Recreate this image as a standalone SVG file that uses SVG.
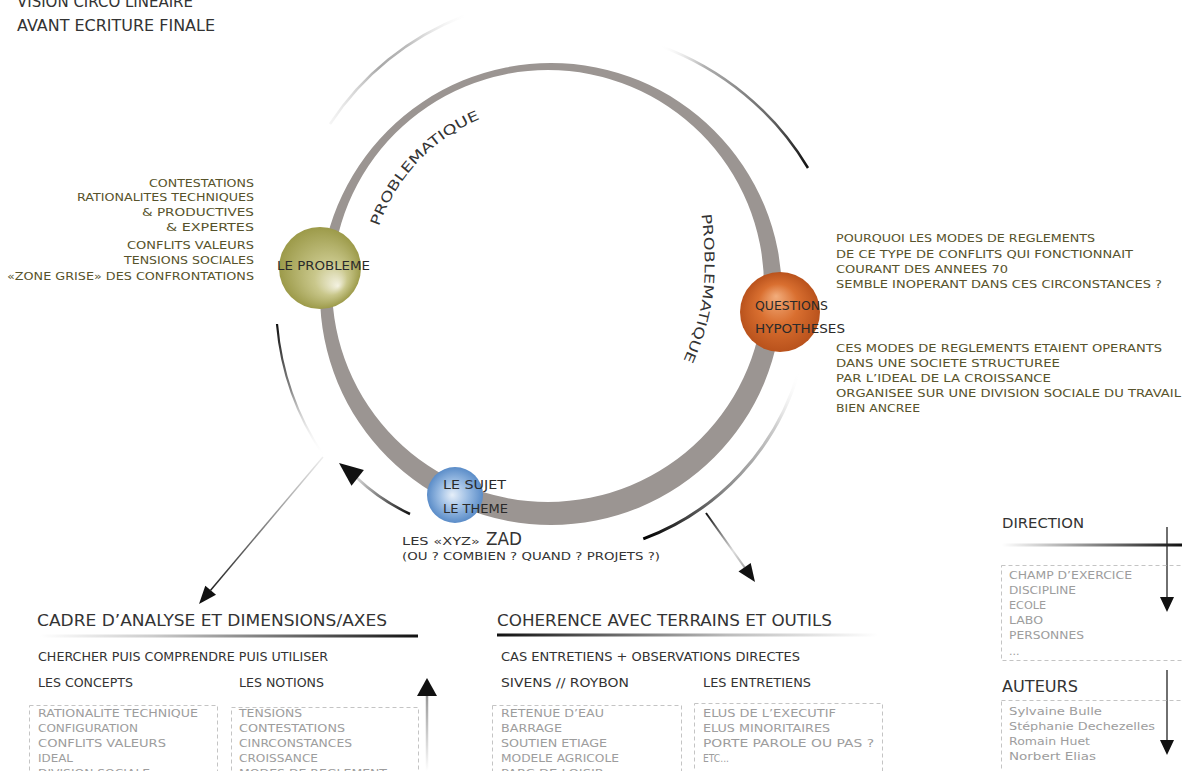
<svg xmlns="http://www.w3.org/2000/svg" width="1182" height="771" viewBox="0 0 1182 771">
<style>
text{font-family:"DejaVu Sans","Liberation Sans",sans-serif;fill:#333}
.o{fill:#57532b;font-size:10.5px}
.r{fill:#57532b;font-size:11px}
.g{fill:#9d9d9d;font-size:11px}
.h{font-size:16px}
.s{font-size:11.5px}
.n{font-size:12.5px;fill:#2a2a2a}
.box{fill:none;stroke:#c4c4c4;stroke-width:1;stroke-dasharray:4 3}
.ah{fill:#111}
</style>
<defs>
<radialGradient id="gOl" cx="0.5" cy="0.5" r="0.5" fx="0.72" fy="0.72">
<stop offset="0" stop-color="#f4f2e2"/><stop offset="0.4" stop-color="#c9c78b"/><stop offset="1" stop-color="#9c9a49"/>
</radialGradient>
<radialGradient id="gOr" cx="0.5" cy="0.5" r="0.5" fx="0.45" fy="0.3">
<stop offset="0" stop-color="#f2ad7c"/><stop offset="0.5" stop-color="#d96f30"/><stop offset="1" stop-color="#b9521c"/>
</radialGradient>
<radialGradient id="gBl" cx="0.5" cy="0.5" r="0.5" fx="0.45" fy="0.5">
<stop offset="0" stop-color="#e6eff9"/><stop offset="0.5" stop-color="#9dbee4"/><stop offset="1" stop-color="#5a8cc8"/>
</radialGradient>
<linearGradient id="gTopL" gradientUnits="userSpaceOnUse" x1="330" y1="0" x2="470" y2="0">
<stop offset="0" stop-color="#ddd" stop-opacity="0.3"/><stop offset="0.35" stop-color="#a8a8a8"/><stop offset="0.55" stop-color="#bbb"/><stop offset="1" stop-color="#fff" stop-opacity="0"/>
</linearGradient>
<linearGradient id="gTopR" gradientUnits="userSpaceOnUse" x1="660" y1="0" x2="808" y2="0">
<stop offset="0" stop-color="#fff" stop-opacity="0"/><stop offset="0.3" stop-color="#b0b0b0"/><stop offset="0.75" stop-color="#666"/><stop offset="1" stop-color="#111"/>
</linearGradient>
<linearGradient id="gLR" gradientUnits="userSpaceOnUse" x1="800" y1="373" x2="643" y2="538">
<stop offset="0" stop-color="#fff" stop-opacity="0"/><stop offset="0.25" stop-color="#ccc"/><stop offset="0.6" stop-color="#888"/><stop offset="0.85" stop-color="#333"/><stop offset="1" stop-color="#000"/>
</linearGradient>
<linearGradient id="gL" gradientUnits="userSpaceOnUse" x1="0" y1="324" x2="0" y2="456">
<stop offset="0" stop-color="#111"/><stop offset="0.5" stop-color="#888"/><stop offset="1" stop-color="#fff" stop-opacity="0"/>
</linearGradient>
<linearGradient id="gA1" gradientUnits="userSpaceOnUse" x1="323" y1="457" x2="210" y2="590">
<stop offset="0" stop-color="#eee"/><stop offset="1" stop-color="#222"/>
</linearGradient>
<linearGradient id="gA2" gradientUnits="userSpaceOnUse" x1="410" y1="514" x2="357" y2="478">
<stop offset="0" stop-color="#111"/><stop offset="1" stop-color="#d5d5d5"/>
</linearGradient>
<linearGradient id="gA3" gradientUnits="userSpaceOnUse" x1="706" y1="513" x2="745" y2="567">
<stop offset="0" stop-color="#111"/><stop offset="0.7" stop-color="#ddd"/><stop offset="1" stop-color="#aaa"/>
</linearGradient>
<linearGradient id="gUp" gradientUnits="userSpaceOnUse" x1="0" y1="696" x2="0" y2="771">
<stop offset="0" stop-color="#999"/><stop offset="1" stop-color="#fff"/>
</linearGradient>
<linearGradient id="gU1" gradientUnits="userSpaceOnUse" x1="40" y1="0" x2="418" y2="0">
<stop offset="0" stop-color="#fff"/><stop offset="0.3" stop-color="#ccc"/><stop offset="1" stop-color="#111"/>
</linearGradient>
<linearGradient id="gU2" gradientUnits="userSpaceOnUse" x1="497" y1="0" x2="878" y2="0">
<stop offset="0" stop-color="#111"/><stop offset="0.6" stop-color="#bbb"/><stop offset="1" stop-color="#fff"/>
</linearGradient>
<linearGradient id="gU3" gradientUnits="userSpaceOnUse" x1="1002" y1="0" x2="1182" y2="0">
<stop offset="0" stop-color="#fff"/><stop offset="0.3" stop-color="#bbb"/><stop offset="1" stop-color="#111"/>
</linearGradient>
<path id="pTop" d="M 378.5 227.5 A 181 181 0 0 1 487.5 116"/>
<path id="pRight" d="M 701 210 C 708 270, 708 310, 678 372"/>
</defs>
<rect width="1182" height="771" fill="#fff"/>

<g id="title">
<text x="17" y="7" font-size="15" fill="#4a403c" textLength="176" lengthAdjust="spacingAndGlyphs">VISION CIRCO LINEAIRE</text>
<text x="17" y="31" font-size="15" fill="#4a403c" textLength="198" lengthAdjust="spacingAndGlyphs">AVANT ECRITURE FINALE</text>
</g>

<g id="ring">
<path fill="#9b9592" fill-rule="evenodd" d="M 320 294 A 231 231 0 1 0 782 294 A 231 231 0 1 0 320 294 Z M 332 286 A 216 216 0 1 0 764 286 A 216 216 0 1 0 332 286 Z"/>
<text font-size="13.5" fill="#333"><textPath href="#pTop" startOffset="1" textLength="152" lengthAdjust="spacingAndGlyphs">PROBLEMATIQUE</textPath></text>
<text font-size="13.5" fill="#333"><textPath href="#pRight" startOffset="4" textLength="150" lengthAdjust="spacingAndGlyphs">PROBLEMATIQUE</textPath></text>
</g>

<g id="connectors" fill="none">
<path d="M 330 124 A 281 281 0 0 1 463.9 16" stroke="url(#gTopL)" stroke-width="2.5"/>
<path d="M 660 46 A 286 286 0 0 1 808 168" stroke="url(#gTopR)" stroke-width="2.5"/>
<path d="M 798.5 372.4 A 255 255 0 0 1 643.3 538.9" stroke="url(#gLR)" stroke-width="3"/>
<path d="M 277 324 A 278 278 0 0 0 323.5 455.5" stroke="url(#gL)" stroke-width="2.2"/>
<line x1="323" y1="457" x2="210.6" y2="590.2" stroke="url(#gA1)" stroke-width="1.5"/>
<polygon class="ah" points="199,604 216,594.7 205.3,585.7"/>
<path d="M 410 514 Q 380 500 357 478" stroke="url(#gA2)" stroke-width="2.5"/>
<polygon class="ah" points="339,463 363.9,470.1 351.5,485.7"/>
<line x1="706" y1="513" x2="744.6" y2="567.3" stroke="url(#gA3)" stroke-width="2"/>
<polygon class="ah" points="755,582 750.7,563 738.5,571.6"/>
<line x1="427" y1="695" x2="427" y2="771" stroke="url(#gUp)" stroke-width="2.5"/>
<polygon class="ah" points="427,678 417,696 437,696"/>
<line x1="1167" y1="527" x2="1167" y2="598" stroke="#222" stroke-width="1.3"/>
<polygon class="ah" points="1160,597 1174,597 1167,612"/>
<line x1="1167" y1="670" x2="1167" y2="741" stroke="#222" stroke-width="1.3"/>
<polygon class="ah" points="1160,740 1174,740 1167,755"/>
</g>

<g id="node-probleme">
<circle cx="320" cy="268" r="41" fill="url(#gOl)"/>
<text class="n" x="277" y="270" textLength="93" lengthAdjust="spacingAndGlyphs">LE PROBLEME</text>
</g>
<g id="probleme-notes">
<text class="o" x="254" y="187" text-anchor="end" textLength="105" lengthAdjust="spacingAndGlyphs">CONTESTATIONS</text>
<text class="o" x="254" y="201" text-anchor="end" textLength="177" lengthAdjust="spacingAndGlyphs">RATIONALITES TECHNIQUES</text>
<text class="o" x="254" y="216" text-anchor="end" textLength="112" lengthAdjust="spacingAndGlyphs">&amp; PRODUCTIVES</text>
<text class="o" x="254" y="231" text-anchor="end" textLength="88" lengthAdjust="spacingAndGlyphs">&amp; EXPERTES</text>
<text class="o" x="254" y="249" text-anchor="end" textLength="127" lengthAdjust="spacingAndGlyphs">CONFLITS VALEURS</text>
<text class="o" x="254" y="264" text-anchor="end" textLength="130" lengthAdjust="spacingAndGlyphs">TENSIONS SOCIALES</text>
<text class="o" x="254" y="280" text-anchor="end" textLength="247" lengthAdjust="spacingAndGlyphs">«ZONE GRISE» DES CONFRONTATIONS</text>
</g>

<g id="node-questions">
<circle cx="780" cy="312" r="40" fill="url(#gOr)"/>
<text class="n" x="755" y="310" textLength="73" lengthAdjust="spacingAndGlyphs">QUESTIONS</text>
<text class="n" x="755" y="333" textLength="90" lengthAdjust="spacingAndGlyphs">HYPOTHESES</text>
</g>
<g id="questions-notes">
<text class="r" x="836" y="242" textLength="259" lengthAdjust="spacingAndGlyphs">POURQUOI LES MODES DE REGLEMENTS</text>
<text class="r" x="836" y="258" textLength="297" lengthAdjust="spacingAndGlyphs">DE CE TYPE DE CONFLITS QUI FONCTIONNAIT</text>
<text class="r" x="836" y="273" textLength="172" lengthAdjust="spacingAndGlyphs">COURANT DES ANNEES 70</text>
<text class="r" x="836" y="288" textLength="326" lengthAdjust="spacingAndGlyphs">SEMBLE INOPERANT DANS CES CIRCONSTANCES ?</text>
<text class="r" x="836" y="352" textLength="326" lengthAdjust="spacingAndGlyphs">CES MODES DE REGLEMENTS ETAIENT OPERANTS</text>
<text class="r" x="836" y="367" textLength="224" lengthAdjust="spacingAndGlyphs">DANS UNE SOCIETE STRUCTUREE</text>
<text class="r" x="836" y="382" textLength="215" lengthAdjust="spacingAndGlyphs">PAR L’IDEAL DE LA CROISSANCE</text>
<text class="r" x="836" y="397" textLength="345" lengthAdjust="spacingAndGlyphs">ORGANISEE SUR UNE DIVISION SOCIALE DU TRAVAIL</text>
<text class="r" x="836" y="412" textLength="84" lengthAdjust="spacingAndGlyphs">BIEN ANCREE</text>
</g>

<g id="node-sujet">
<circle cx="455" cy="495" r="28" fill="url(#gBl)"/>
<text class="n" x="443" y="489" textLength="63" lengthAdjust="spacingAndGlyphs">LE SUJET</text>
<text class="n" x="443" y="513" textLength="65" lengthAdjust="spacingAndGlyphs">LE THEME</text>
<text x="402" y="545" font-size="10.5" textLength="78" lengthAdjust="spacingAndGlyphs">LES «XYZ»</text>
<text x="486" y="545" font-size="17" textLength="36" lengthAdjust="spacingAndGlyphs">ZAD</text>
<text x="402" y="560" font-size="10.5" textLength="258" lengthAdjust="spacingAndGlyphs">(OU ? COMBIEN ? QUAND ? PROJETS ?)</text>
</g>

<g id="cadre">
<text class="h" x="37" y="626" textLength="350" lengthAdjust="spacingAndGlyphs">CADRE D’ANALYSE ET DIMENSIONS/AXES</text>
<rect x="40" y="634.5" width="378" height="3" fill="url(#gU1)"/>
<text class="s" x="38" y="661" textLength="290" lengthAdjust="spacingAndGlyphs">CHERCHER PUIS COMPRENDRE PUIS UTILISER</text>
<text class="s" x="38" y="687" textLength="95" lengthAdjust="spacingAndGlyphs">LES CONCEPTS</text>
<text class="s" x="239" y="687" textLength="85" lengthAdjust="spacingAndGlyphs">LES NOTIONS</text>
<rect class="box" x="29.5" y="705.5" width="188" height="100"/>
<rect class="box" x="231.5" y="707.5" width="187" height="100"/>
<text class="g" x="38" y="717" textLength="160" lengthAdjust="spacingAndGlyphs">RATIONALITE TECHNIQUE</text>
<text class="g" x="38" y="732" textLength="100" lengthAdjust="spacingAndGlyphs">CONFIGURATION</text>
<text class="g" x="38" y="747" textLength="128" lengthAdjust="spacingAndGlyphs">CONFLITS VALEURS</text>
<text class="g" x="38" y="762" textLength="35" lengthAdjust="spacingAndGlyphs">IDEAL</text>
<text class="g" x="38" y="777" textLength="112" lengthAdjust="spacingAndGlyphs">DIVISION SOCIALE</text>
<text class="g" x="239" y="717" textLength="63" lengthAdjust="spacingAndGlyphs">TENSIONS</text>
<text class="g" x="239" y="732" textLength="106" lengthAdjust="spacingAndGlyphs">CONTESTATIONS</text>
<text class="g" x="239" y="747" textLength="113" lengthAdjust="spacingAndGlyphs">CINRCONSTANCES</text>
<text class="g" x="239" y="762" textLength="79" lengthAdjust="spacingAndGlyphs">CROISSANCE</text>
<text class="g" x="239" y="777" textLength="148" lengthAdjust="spacingAndGlyphs">MODES DE REGLEMENT</text>
</g>

<g id="coherence">
<text class="h" x="497" y="626" textLength="335" lengthAdjust="spacingAndGlyphs">COHERENCE AVEC TERRAINS ET OUTILS</text>
<rect x="497" y="633.5" width="381" height="3" fill="url(#gU2)"/>
<text class="s" x="501" y="661" textLength="299" lengthAdjust="spacingAndGlyphs">CAS ENTRETIENS + OBSERVATIONS DIRECTES</text>
<text class="s" x="501" y="687" textLength="128" lengthAdjust="spacingAndGlyphs">SIVENS // ROYBON</text>
<text class="s" x="703" y="687" textLength="108" lengthAdjust="spacingAndGlyphs">LES ENTRETIENS</text>
<rect class="box" x="492.5" y="705.5" width="189" height="100"/>
<rect class="box" x="694.5" y="703.5" width="188" height="100"/>
<text class="g" x="501" y="717" textLength="103" lengthAdjust="spacingAndGlyphs">RETENUE D’EAU</text>
<text class="g" x="501" y="732" textLength="61" lengthAdjust="spacingAndGlyphs">BARRAGE</text>
<text class="g" x="501" y="747" textLength="106" lengthAdjust="spacingAndGlyphs">SOUTIEN ETIAGE</text>
<text class="g" x="501" y="762" textLength="118" lengthAdjust="spacingAndGlyphs">MODELE AGRICOLE</text>
<text class="g" x="501" y="777" textLength="103" lengthAdjust="spacingAndGlyphs">PARC DE LOISIR</text>
<text class="g" x="703" y="717" textLength="133" lengthAdjust="spacingAndGlyphs">ELUS DE L’EXECUTIF</text>
<text class="g" x="703" y="732" textLength="127" lengthAdjust="spacingAndGlyphs">ELUS MINORITAIRES</text>
<text class="g" x="703" y="747" textLength="171" lengthAdjust="spacingAndGlyphs">PORTE PAROLE OU PAS ?</text>
<text class="g" x="703" y="762" textLength="26" lengthAdjust="spacingAndGlyphs">ETC...</text>
</g>

<g id="direction">
<text x="1002" y="528" font-size="13.5" textLength="82" lengthAdjust="spacingAndGlyphs">DIRECTION</text>
<rect x="1002" y="543.5" width="180" height="3" fill="url(#gU3)"/>
<rect class="box" x="1001.5" y="565.5" width="200" height="95"/>
<text class="g" x="1009" y="579" textLength="123" lengthAdjust="spacingAndGlyphs">CHAMP D’EXERCICE</text>
<text class="g" x="1009" y="594" textLength="67" lengthAdjust="spacingAndGlyphs">DISCIPLINE</text>
<text class="g" x="1009" y="609" textLength="37" lengthAdjust="spacingAndGlyphs">ECOLE</text>
<text class="g" x="1009" y="624" textLength="34" lengthAdjust="spacingAndGlyphs">LABO</text>
<text class="g" x="1009" y="639" textLength="75" lengthAdjust="spacingAndGlyphs">PERSONNES</text>
<text class="g" x="1009" y="655">...</text>
</g>

<g id="auteurs">
<text x="1002" y="692" font-size="16" textLength="76" lengthAdjust="spacingAndGlyphs">AUTEURS</text>
<rect class="box" x="1001.5" y="700.5" width="200" height="100"/>
<text class="g" x="1009" y="715" textLength="93" lengthAdjust="spacingAndGlyphs">Sylvaine Bulle</text>
<text class="g" x="1009" y="730" textLength="146" lengthAdjust="spacingAndGlyphs">Stéphanie Dechezelles</text>
<text class="g" x="1009" y="745" textLength="81" lengthAdjust="spacingAndGlyphs">Romain Huet</text>
<text class="g" x="1009" y="760" textLength="87" lengthAdjust="spacingAndGlyphs">Norbert Elias</text>
</g>
</svg>
